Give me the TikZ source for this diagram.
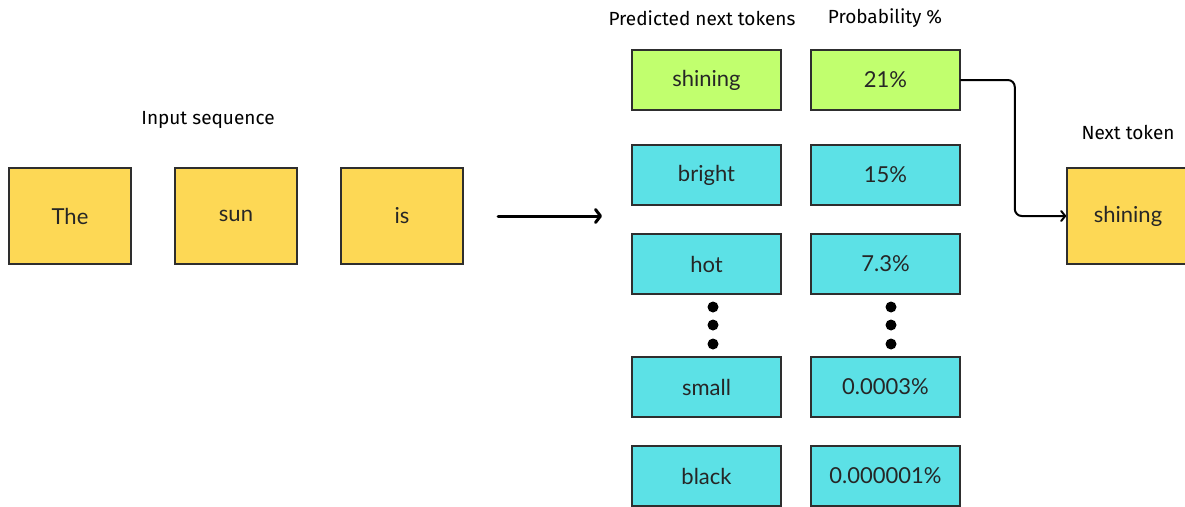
\documentclass[tikz,border=0pt]{standalone}
\usepackage{fontspec}
\setmainfont{Lato}
\newfontfamily\headfont{Fira Sans}
\usetikzlibrary{arrows.meta}
\definecolor{tokyellow}{HTML}{FDD855}
\definecolor{tokgreen}{HTML}{C1FF6E}
\definecolor{tokcyan}{HTML}{5CE1E6}
\definecolor{edgegrey}{HTML}{2E2E2E}
\tikzset{
  tokbox/.style={draw=edgegrey, line width=1.6pt, rectangle, inner sep=0pt,
    font=\fontsize{22}{26}\selectfont, text=black!85},
  inbox/.style={tokbox, fill=tokyellow, minimum width=122pt, minimum height=96pt},
  predbox/.style={tokbox, fill=tokcyan, minimum width=149pt, minimum height=60pt},
  topbox/.style={predbox, fill=tokgreen},
  heading/.style={font=\headfont\fontsize{19}{23}\selectfont, text=black},
  dot/.style={circle, fill=black, inner sep=0pt, minimum size=11pt},
  flow/.style={line width=3pt, line cap=round,
    -{Straight Barb[length=5pt,width=13pt,line cap=round,line join=round]}},
  pick/.style={line width=2pt, rounded corners=7pt, line cap=round,
    -{Straight Barb[length=4pt,width=10pt,line cap=round,line join=round]}}
}
\begin{document}
\begin{tikzpicture}[x=1pt, y=-1pt]
  \useasboundingbox (0,0) rectangle (1185,506);
  \clip (0,0) rectangle (1185,506);

  % input sequence
  \node[heading] (inlabel) at (208,120) {Input sequence};
  \node[inbox] (the) at (70,216) {The};
  \node[inbox] (sun) at (236,216) {sun};
  \node[inbox] (is)  at (402,216) {is};

  % arrow into the prediction
  \coordinate (arrfrom) at (498,216);
  \coordinate (arrto) at (602,216);
  \draw[flow] (arrfrom) -- (arrto);

  % column headings
  \node[heading] (predlabel) at (702,18) {Predicted next tokens};
  \node[heading] (problabel) at (885,18) {Probability \%};

  % predicted tokens and their probabilities
  \node[topbox]  (p1) at (706.5,80)  {shining};
  \node[topbox]  (q1) at (885.5,80)  {21\%};
  \node[predbox] (p2) at (706.5,175) {bright};
  \node[predbox] (q2) at (885.5,175) {15\%};
  \node[predbox] (p3) at (706.5,264) {hot};
  \node[predbox] (q3) at (885.5,264) {7.3\%};
  \node[predbox] (p4) at (706.5,387) {small};
  \node[predbox] (q4) at (885.5,387) {0.0003\%};
  \node[predbox] (p5) at (706.5,476) {black};
  \node[predbox] (q5) at (885.5,476) {0.000001\%};

  % ellipsis dots
  \foreach \yy [count=\i] in {307,325,344} {
    \node[dot] (da\i) at (713,\yy) {};
    \node[dot] (db\i) at (891,\yy) {};
  }

  % chosen next token
  \node[heading] (nextlabel) at (1128,132) {Next token};
  \node[inbox] (next) at (1128,216) {shining};

  \draw[pick] (q1.east) -- ++(54,0) |- (next.west);
\end{tikzpicture}
\end{document}
